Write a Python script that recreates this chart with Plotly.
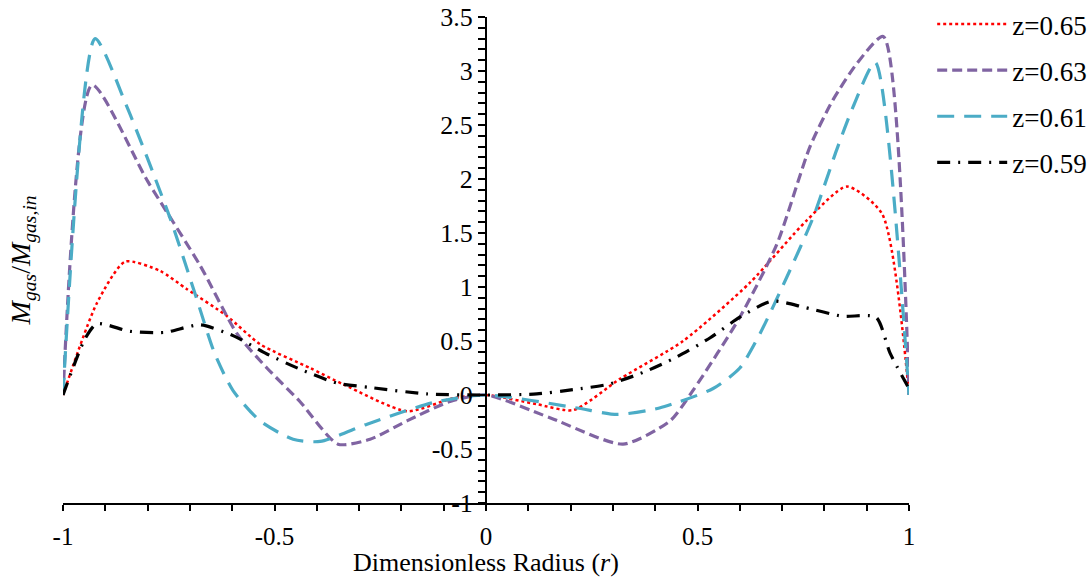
import plotly.graph_objects as go

# ---- data ----
r_065 = [-1, -0.92, -0.853, -0.771, -0.707, -0.612, -0.534, -0.416, -0.338, -0.187, -0.078, 0,
         0.12, 0.206, 0.317, 0.466, 0.624, 0.759, 0.853, 0.936, 1]
v_065 = [0, 0.85, 1.235, 1.15, 0.98, 0.73, 0.47, 0.25, 0.10, -0.15, -0.03, 0,
         -0.085, -0.14, 0.15, 0.50, 1.04, 1.62, 1.93, 1.68, 0]

r_063 = [-1, -0.931, -0.80, -0.676, -0.589, -0.518, -0.44, -0.35, -0.274, -0.187, -0.085, 0,
         0.151, 0.324, 0.435, 0.489, 0.60, 0.688, 0.766, 0.82, 0.877, 0.939, 1]
v_063 = [0, 2.87, 1.98, 1.20, 0.57, 0.25, -0.06, -0.455, -0.41, -0.24, -0.06, 0,
         -0.21, -0.455, -0.24, 0.04, 0.72, 1.40, 2.30, 2.73, 3.07, 3.32, 0]

r_061 = [-1, -0.924, -0.849, -0.747, -0.688, -0.641, -0.598, -0.534, -0.456, -0.392, -0.281, -0.125, 0,
         0.215, 0.31, 0.41, 0.537, 0.60, 0.648, 0.711, 0.773, 0.829, 0.868, 0.92, 1]
v_061 = [0, 3.30, 2.67, 1.64, 0.94, 0.38, 0.04, -0.24, -0.41, -0.43, -0.27, -0.07, 0,
         -0.12, -0.18, -0.12, 0.06, 0.25, 0.57, 1.09, 1.64, 2.27, 2.67, 3.08, 0]

r_059 = [-1, -0.948, -0.92, -0.842, -0.759, -0.676, -0.598, -0.518, -0.44, -0.352, -0.274, -0.14, 0,
         0.12, 0.206, 0.29, 0.372, 0.45, 0.53, 0.60, 0.676, 0.754, 0.842, 0.922, 0.955, 1]
v_059 = [0, 0.52, 0.66, 0.59, 0.58, 0.65, 0.55, 0.38, 0.24, 0.11, 0.07, 0.01, 0,
         0.01, 0.05, 0.10, 0.21, 0.35, 0.53, 0.72, 0.87, 0.81, 0.73, 0.72, 0.39, 0.06]

series_names = ["z=0.65", "z=0.63", "z=0.61", "z=0.59"]

x_tickvals = [-1, -0.5, 0, 0.5, 1]
x_ticktext = ["-1", "-0.5", "0", "0.5", "1"]
y_tickvals = [-1, -0.5, 0, 0.5, 1, 1.5, 2, 2.5, 3, 3.5]
y_ticktext = ["-1", "-0.5", "0", "0.5", "1", "1.5", "2", "2.5", "3", "3.5"]

FONT = "Liberation Serif"

styles = [
    dict(color="#FF0000", width=2.5, dash="3px,3px"),
    dict(color="#8064A2", width=3.2, dash="10px,5px"),
    dict(color="#4BACC6", width=3.2, dash="17px,10px"),
    dict(color="#000000", width=3.2, dash="13px,8px,2px,8px"),
]
data = [(r_065, v_065), (r_063, v_063), (r_061, v_061), (r_059, v_059)]

fig = go.Figure()
for (rx, vy), name, st in zip(data, series_names, styles):
    fig.add_trace(go.Scatter(
        x=rx, y=vy, mode="lines", name=name, legendgroup=name,
        line=dict(shape="spline", smoothing=0.65, **st),
    ))

fig.update_layout(
    width=1089, height=577,
    margin=dict(l=63, r=180, t=17, b=74, autoexpand=False),
    paper_bgcolor="white", plot_bgcolor="white",
    font=dict(family=FONT, size=25, color="black"),
    showlegend=True,
    legend=dict(
        xref="container", yref="container",
        x=0.856, xanchor="left", y=1.022, yanchor="top",
        font=dict(family=FONT, size=27, color="black"),
        tracegroupgap=8, itemwidth=70, bgcolor="rgba(0,0,0,0)",
    ),
    xaxis=dict(
        range=[-1, 1], showgrid=False, zeroline=False, automargin=False,
        showline=True, linecolor="black", linewidth=2,
        tickvals=x_tickvals, ticktext=x_ticktext,
        ticks="outside", ticklen=6, tickwidth=1.5, tickcolor="black",
        minor=dict(dtick=0.1, ticks="outside", ticklen=6, tickwidth=1.5, tickcolor="black"),
        tickfont=dict(family=FONT, size=25),
        ticklabelstandoff=4,
        title=dict(text="Dimensionless Radius (<i>r</i>)", font=dict(family=FONT, size=26), standoff=0),
    ),
    yaxis=dict(
        range=[-1, 3.5], showgrid=False, zeroline=False, automargin=False,
        anchor="free", position=0.5, side="left",
        showline=True, linecolor="black", linewidth=2,
        tickvals=y_tickvals, ticktext=y_ticktext,
        ticks="outside", ticklen=7, tickwidth=1.5, tickcolor="black",
        minor=dict(dtick=0.1, ticks="outside", ticklen=7, tickwidth=1.5, tickcolor="black"),
        tickfont=dict(family=FONT, size=26),
    ),
    annotations=[dict(
        text="<i>M</i><sub><i>gas</i></sub>/<i>M</i><sub><i>gas,in</i></sub>",
        xref="paper", yref="paper", x=-0.048, y=0.5,
        xanchor="center", yanchor="middle", textangle=-90, showarrow=False,
        font=dict(family=FONT, size=28, color="black"),
    )],
)

fig.write_html("out.html")
